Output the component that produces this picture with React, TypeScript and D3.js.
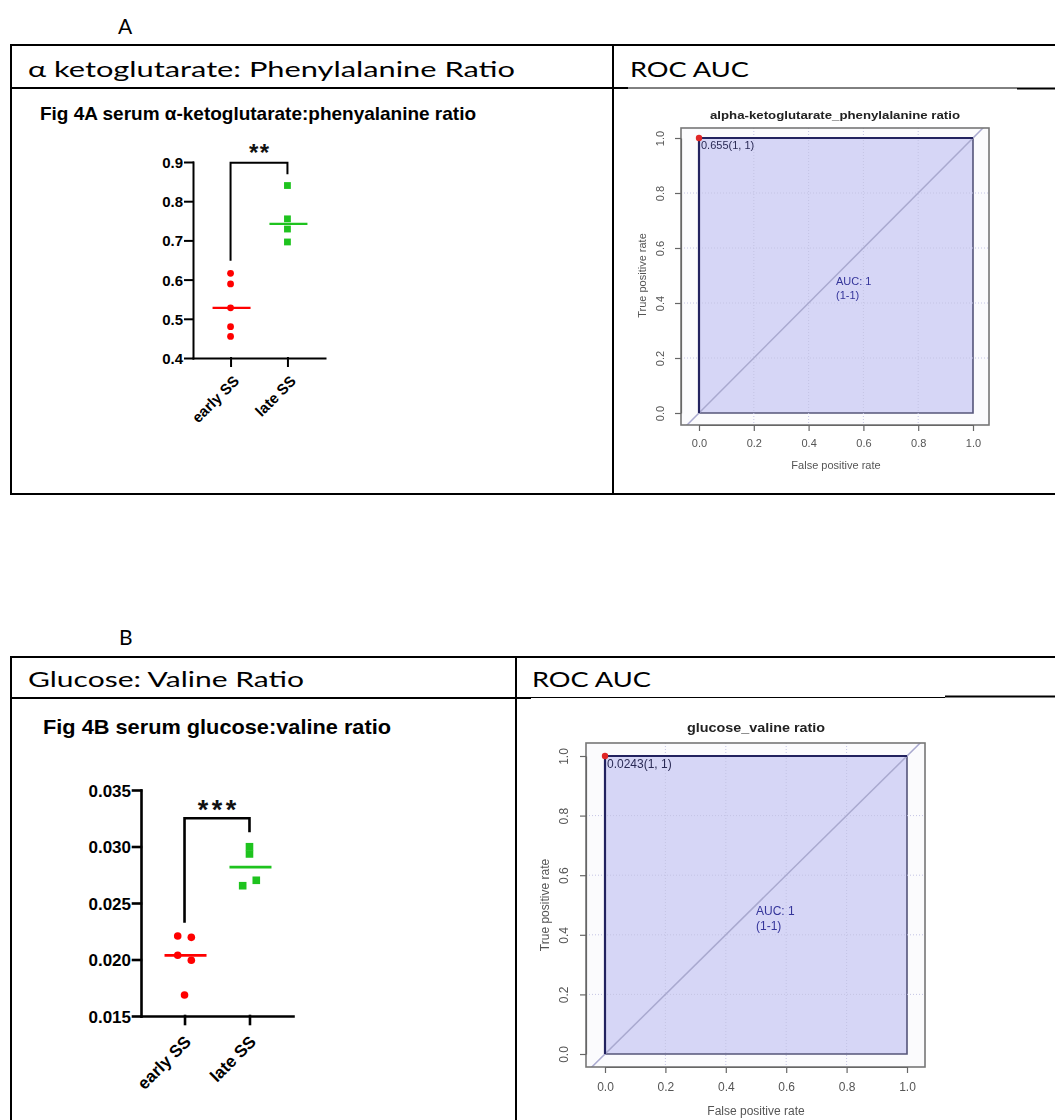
import React, { useEffect, useRef } from 'react';
import * as d3 from 'd3';

const groups = ['early SS', 'late SS'];

// Fig 4A serum alpha-ketoglutarate:phenylalanine ratio
const akgEarly = [0.616, 0.589, 0.528, 0.48, 0.455];
const akgLate = [0.84, 0.755, 0.729, 0.696];
const akgTicks = [0.4, 0.5, 0.6, 0.7, 0.8, 0.9];

// Fig 4B serum glucose:valine ratio
const gluEarly = [0.02208, 0.02196, 0.02037, 0.01993, 0.01686];
const gluLate = [0.02998, 0.02934, 0.02653, 0.02701];
const gluTicks = [0.015, 0.02, 0.025, 0.03, 0.035];

// ROC curves (both perfect, AUC = 1)
const rocFpr = [0, 0, 1];
const rocTpr = [0, 1, 1];
const rocTicks = [0, 0.2, 0.4, 0.6, 0.8, 1];
const aucLines = ['AUC: 1', '(1-1)'];

const RED = '#ff0000';
const GREEN = '#1ec31e';
const ARIAL = '"Liberation Sans", Arial, sans-serif';
const CAL = 'Lato, "Open Sans", sans-serif';

// points that would overlap get pushed sideways, like the prism scatter
function spread(vals: number[], y: any, minGap: number, step: number) {
  const px = vals.map(v => y(v));
  const offs = vals.map(() => 0);
  const used = vals.map(() => false);
  vals.forEach((v, i) => {
    if (used[i]) return;
    used[i] = true;
    const cl = [i];
    vals.forEach((w, j) => {
      if (!used[j] && Math.abs(px[j] - px[i]) < minGap) { cl.push(j); used[j] = true; }
    });
    cl.forEach((k, n) => { offs[k] = (n - (cl.length - 1) / 2) * step; });
  });
  return offs;
}

function dotPlot(svg: any, c: any) {
  const g = svg.append('g');
  const x = d3.scalePoint().domain(groups).range([c.left, c.right]).padding(c.pad);
  const y = d3.scaleLinear().domain(c.domain).range([c.bottom, c.top]);

  g.append('text')
    .attr('x', c.titleX).attr('y', c.titleY)
    .attr('font-family', ARIAL).attr('font-weight', 'bold').attr('font-size', c.titleSize)
    .attr('textLength', c.titleLen).attr('lengthAdjust', 'spacingAndGlyphs')
    .text(c.title);

  const ya = g.append('g').attr('transform', `translate(${c.left},0)`)
    .call(d3.axisLeft(y).tickValues(c.ticks).tickFormat(d3.format(c.fmt)).tickSize(c.tick).tickSizeOuter(0).tickPadding(2));
  const xa = g.append('g').attr('transform', `translate(0,${c.bottom})`)
    .call(d3.axisBottom(x).tickSize(c.tick).tickSizeOuter(0));

  for (const a of [ya, xa]) {
    a.selectAll('path, line').attr('stroke', '#000').attr('stroke-width', c.sw).attr('stroke-linecap', 'square');
    a.selectAll('text')
      .attr('font-family', ARIAL).attr('font-weight', 'bold').attr('font-size', c.tickSize).attr('fill', '#000');
  }
  ya.selectAll('text').attr('dy', '0.36em');
  xa.selectAll('text')
    .attr('x', 0).attr('y', 0).attr('dy', 0)
    .attr('text-anchor', 'end')
    .attr('transform', `translate(${c.lx},${c.ly}) rotate(-45)`);

  const series = [
    { name: groups[0], vals: c.early, color: RED, shape: 'circle' },
    { name: groups[1], vals: c.late, color: GREEN, shape: 'square' },
  ];
  series.forEach(s => {
    const offs = spread(s.vals, y, c.gap, c.step);
    const pts = s.vals.map((v: number, i: number) => ({ cx: (x(s.name) as number) + offs[i], cy: y(v) }));
    if (s.shape === 'circle') {
      g.selectAll(null).data(pts).enter().append('circle')
        .attr('cx', (d: any) => d.cx).attr('cy', (d: any) => d.cy).attr('r', c.r)
        .attr('fill', s.color);
    } else {
      g.selectAll(null).data(pts).enter().append('rect')
        .attr('x', (d: any) => d.cx - c.r).attr('y', (d: any) => d.cy - c.r)
        .attr('width', c.r * 2).attr('height', c.r * 2)
        .attr('fill', s.color);
    }
    const m = d3.median(s.vals) as number;
    g.append('line')
      .attr('x1', (x(s.name) as number) - c.med / 2 + 1).attr('x2', (x(s.name) as number) + c.med / 2 + 1)
      .attr('y1', y(m)).attr('y2', y(m))
      .attr('stroke', s.color).attr('stroke-width', c.medW);
  });

  // significance bracket
  const xl = x(groups[0]) as number, xr = x(groups[1]) as number;
  g.append('path')
    .attr('d', `M${xl},${y(c.brLeft)}V${y(c.brTop)}H${xr}V${y(c.brRight)}`)
    .attr('fill', 'none').attr('stroke', '#000').attr('stroke-width', c.sw);
  g.append('text')
    .attr('x', (xl + xr) / 2 + c.starLs / 2).attr('y', c.starY)
    .attr('text-anchor', 'middle')
    .attr('font-family', ARIAL).attr('font-weight', 'bold')
    .attr('font-size', c.starSize).attr('letter-spacing', c.starLs)
    .attr('fill', '#111')
    .text(c.stars);
}

function rocPlot(svg: any, c: any, id: string) {
  const g = svg.append('g').attr('filter', 'url(#soft)');
  const x = d3.scaleLinear().domain([0, 1]).range([c.x0, c.x1]);
  const y = d3.scaleLinear().domain([0, 1]).range([c.y0, c.y1]);
  const [bx0, by0, bx1, by1] = c.box;

  svg.append('clipPath').attr('id', id).append('rect')
    .attr('x', bx0).attr('y', by0).attr('width', bx1 - bx0).attr('height', by1 - by0);

  g.append('text')
    .attr('x', c.titleX).attr('y', c.titleY).attr('text-anchor', 'middle')
    .attr('font-family', ARIAL).attr('font-weight', 'bold').attr('font-size', c.fs)
    .attr('textLength', c.titleLen).attr('lengthAdjust', 'spacingAndGlyphs')
    .attr('fill', '#222')
    .text(c.title);

  g.append('rect')
    .attr('x', bx0).attr('y', by0).attr('width', bx1 - bx0).attr('height', by1 - by0)
    .attr('fill', '#fbfbfd');

  const pts: [number, number][] = rocFpr.map((f, i) => [f, rocTpr[i]]);
  const line = d3.line<[number, number]>().x(d => x(d[0])).y(d => y(d[1]));
  // AUC polygon, closed along the x axis
  g.append('path')
    .attr('d', line(pts.concat([[1, 0]])) + 'Z')
    .attr('fill', '#d6d6f6').attr('stroke', '#55557a').attr('stroke-width', 1.6);

  const grid = g.append('g').attr('clip-path', `url(#${id})`);
  rocTicks.slice(1, -1).forEach(t => {
    grid.append('line').attr('x1', x(t)).attr('x2', x(t)).attr('y1', by0).attr('y2', by1)
      .attr('stroke', '#c4c4e4').attr('stroke-width', 1).attr('stroke-dasharray', '1,2');
    grid.append('line').attr('y1', y(t)).attr('y2', y(t)).attr('x1', bx0).attr('x2', bx1)
      .attr('stroke', '#c4c4e4').attr('stroke-width', 1).attr('stroke-dasharray', '1,2');
  });
  grid.append('line')
    .attr('x1', x(-0.1)).attr('y1', y(-0.1)).attr('x2', x(1.1)).attr('y2', y(1.1))
    .attr('stroke', '#a9a9cf').attr('stroke-width', 1.5);

  g.append('path').attr('d', line(pts)).attr('fill', 'none')
    .attr('stroke', '#20205e').attr('stroke-width', 2.2);

  g.append('rect')
    .attr('x', bx0).attr('y', by0).attr('width', bx1 - bx0).attr('height', by1 - by0)
    .attr('fill', 'none').attr('stroke', '#777').attr('stroke-width', 1.6);

  // axes
  const xa = g.append('g').attr('transform', `translate(0,${by1})`)
    .call(d3.axisBottom(x).tickValues(rocTicks).tickFormat(d3.format('.1f')).tickSize(6).tickSizeOuter(0).tickPadding(c.tickPad));
  const ya = g.append('g').attr('transform', `translate(${bx0},0)`)
    .call(d3.axisLeft(y).tickValues(rocTicks).tickFormat(d3.format('.1f')).tickSize(6).tickSizeOuter(0).tickPadding(c.tickPad));
  for (const a of [xa, ya]) {
    a.selectAll('path, line').attr('stroke', '#666').attr('stroke-width', 1.2);
    a.selectAll('text').attr('font-family', ARIAL).attr('font-size', c.fs).attr('fill', '#555');
  }
  ya.selectAll('text')
    .attr('text-anchor', 'middle').attr('dy', 0)
    .attr('transform', function (this: any) {
      const xx = +d3.select(this).attr('x');
      return `translate(${xx - 3},0) rotate(-90)`;
    })
    .attr('x', 0);

  g.append('text')
    .attr('x', (c.x0 + c.x1) / 2).attr('y', c.xlabY).attr('text-anchor', 'middle')
    .attr('font-family', ARIAL).attr('font-size', c.fs).attr('fill', '#555')
    .text('False positive rate');
  g.append('text')
    .attr('transform', `translate(${c.ylabX},${(c.y0 + c.y1) / 2}) rotate(-90)`)
    .attr('text-anchor', 'middle')
    .attr('font-family', ARIAL).attr('font-size', c.fs).attr('fill', '#555')
    .text('True positive rate');

  // best threshold point
  g.append('circle').attr('cx', x(0)).attr('cy', y(1)).attr('r', 3.2).attr('fill', '#e02828');
  g.append('text')
    .attr('x', x(0) + 2).attr('y', y(1) + c.fs)
    .attr('font-family', ARIAL).attr('font-size', c.fs).attr('fill', '#2a2a55')
    .text(`${c.threshold}(1, 1)`);

  g.selectAll(null).data(aucLines).enter().append('text')
    .attr('x', x(0.5)).attr('y', (d: string, i: number) => y(i ? 0.415 : 0.465))
    .attr('font-family', ARIAL).attr('font-size', c.fs).attr('fill', '#34349a')
    .text((d: string) => d);
}

export default function App() {
  const ref = useRef<SVGSVGElement>(null);

  useEffect(() => {
    const svg = d3.select(ref.current);
    svg.selectAll('*').remove();

    svg.append('defs').append('filter').attr('id', 'soft')
      .append('feGaussianBlur').attr('stdDeviation', 0.45);

    // the two word tables
    const tl = svg.append('g').attr('stroke', '#000');
    const seg = (x1: number, y1: number, x2: number, y2: number, w: number) =>
      tl.append('line').attr('x1', x1).attr('y1', y1).attr('x2', x2).attr('y2', y2).attr('stroke-width', w);
    seg(10, 45, 1055, 45, 2);
    seg(11, 44, 11, 495, 2);
    seg(613, 44, 613, 495, 2);
    seg(10, 494, 1055, 494, 2);
    seg(10, 88, 628, 88, 2);
    seg(628, 88, 1017, 88, 1);
    seg(1017, 88.5, 1055, 88.5, 2);

    seg(10, 657, 1055, 657, 2);
    seg(11, 656, 11, 1120, 2);
    seg(516, 656, 516, 1120, 2);
    seg(10, 698, 531, 698, 2);
    seg(531, 697.5, 945, 697.5, 1);
    seg(945, 696.5, 1055, 696.5, 2);

    const word = (t: string, x: number, y: number, size: number, len?: number) => {
      const el = svg.append('text').attr('x', x).attr('y', y)
        .attr('font-family', CAL).attr('font-size', size).attr('fill', '#000').text(t);
      if (len) el.attr('textLength', len).attr('lengthAdjust', 'spacingAndGlyphs');
    };
    word('A', 118, 34, 21);
    word('α ketoglutarate: Phenylalanine Ratio', 28, 77, 21, 487);
    word('ROC AUC', 630, 77, 21, 119);
    word('B', 119, 645, 21);
    word('Glucose: Valine Ratio', 28, 687, 21, 276);
    word('ROC AUC', 532, 687, 21, 119);

    dotPlot(svg, {
      title: 'Fig 4A serum α-ketoglutarate:phenyalanine ratio',
      titleX: 40, titleY: 120, titleSize: 18.5, titleLen: 436,
      left: 193, right: 325, top: 162, bottom: 358, pad: 0.66,
      domain: [0.4, 0.9], ticks: akgTicks, fmt: '.1f',
      tick: 8, sw: 2, tickSize: 15, lx: 9, ly: 24,
      early: akgEarly, late: akgLate,
      r: 3.4, gap: 7, step: 12, med: 38, medW: 2.3,
      brLeft: 0.648, brTop: 0.898, brRight: 0.869,
      stars: '**', starSize: 24, starLs: 1.5, starY: 161,
    });

    dotPlot(svg, {
      title: 'Fig 4B serum glucose:valine ratio',
      titleX: 43, titleY: 734, titleSize: 20.5, titleLen: 348,
      left: 141, right: 293, top: 790, bottom: 1016, pad: 0.67,
      domain: [0.015, 0.035], ticks: gluTicks, fmt: '.3f',
      tick: 8, sw: 2.6, tickSize: 17, lx: 7, ly: 27,
      early: gluEarly, late: gluLate,
      r: 3.8, gap: 6.8, step: 13.6, med: 42, medW: 2.7,
      brLeft: 0.02326, brTop: 0.0325, brRight: 0.03126,
      stars: '***', starSize: 27, starLs: 3.5, starY: 819,
    });

    rocPlot(svg, {
      title: 'alpha-ketoglutarate_phenylalanine ratio', titleX: 835, titleY: 119, titleLen: 250,
      x0: 699, x1: 973, y0: 413, y1: 138,
      box: [681, 128, 989, 425],
      fs: 11, tickPad: 8, xlabY: 469, ylabX: 646,
      threshold: '0.655',
    }, 'clipA');

    rocPlot(svg, {
      title: 'glucose_valine ratio', titleX: 756, titleY: 732, titleLen: 138,
      x0: 605, x1: 907, y0: 1054, y1: 756,
      box: [586, 743, 925, 1067],
      fs: 12, tickPad: 9, xlabY: 1115, ylabX: 549,
      threshold: '0.0243',
    }, 'clipB');
  }, []);

  return (
    <svg ref={ref} width={1055} height={1120}
      style={{ position: 'absolute', left: 0, top: 0, background: '#fff' }} />
  );
}
